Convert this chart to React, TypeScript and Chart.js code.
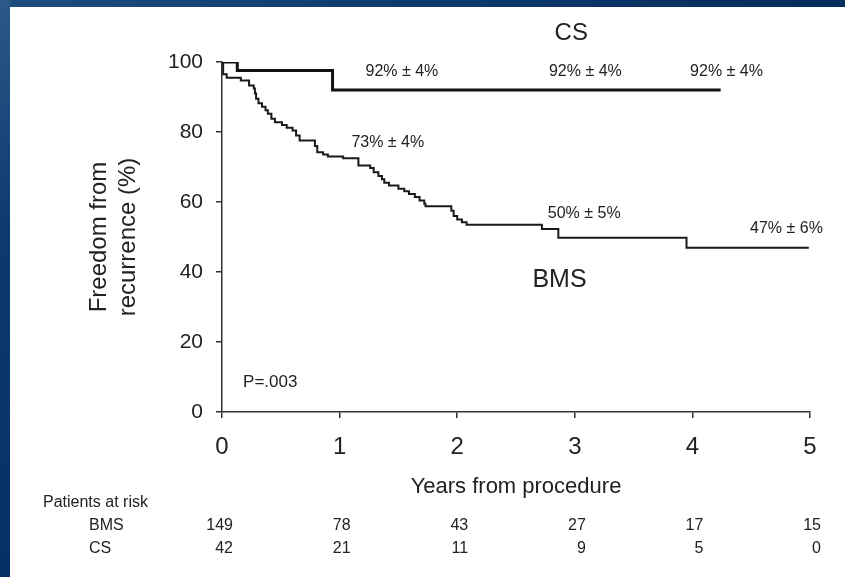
import React, { useEffect, useRef } from 'react';
import { Chart, registerables } from 'chart.js';

Chart.register(...registerables);

// ---- Data ----
const bmsTimes = [
  0, 0.01, 0.04, 0.16, 0.23, 0.27, 0.28, 0.29, 0.31, 0.34, 0.37, 0.39, 0.42, 0.45,
  0.51, 0.55, 0.6, 0.63, 0.66, 0.79, 0.81, 0.86, 0.9, 1.03, 1.16, 1.26, 1.29, 1.33,
  1.36, 1.38, 1.42, 1.5, 1.55, 1.59, 1.64, 1.68, 1.72, 1.73, 1.95, 1.97, 2.0, 2.04,
  2.08, 2.72, 2.86, 3.95, 4.99,
];
const bmsSurvival = [
  100, 96.5, 95.5, 94.7, 93.3, 92.4, 91, 89.5, 88.2, 87.2, 86.2, 85.2, 83.8, 82.8,
  82, 81.2, 80.4, 79, 77.6, 76, 74.2, 73.6, 73, 72.5, 70.4, 69.7, 68.5, 67.4,
  66.5, 65.5, 64.7, 63.8, 63.1, 62.3, 61.4, 60.4, 59.5, 58.8, 57.5, 56, 55, 54.2,
  53.5, 52.3, 49.8, 46.9, 46.9,
];
const csTimes = [0, 0.13, 0.94, 4.24];
const csSurvival = [100, 97.6, 92, 92];

const xTickValues = [0, 1, 2, 3, 4, 5];
const yTickValues = [0, 20, 40, 60, 80, 100];

const riskTimes = [0, 1, 2, 3, 4, 5];
const bmsAtRisk = [149, 78, 43, 27, 17, 15];
const csAtRisk = [42, 21, 11, 9, 5, 0];

const yTitleLines = ['Freedom from', 'recurrence (%)'];
const xTitle = 'Years from procedure';
const riskTitle = 'Patients at risk';
const riskRowLabels = ['BMS', 'CS'];

// annotation labels (text + anchor in data units)
const annotationTexts = ['CS', '92% ± 4%', '92% ± 4%', '92% ± 4%', '73% ± 4%', '50% ± 5%', '47% ± 6%', 'BMS', 'P=.003'];
const annotationT = [2.97, 1.53, 3.09, 4.29, 1.41, 3.08, 4.8, 2.87, 0.41];
const annotationV = [108.1, 97.3, 97.3, 97.3, 76.9, 56.6, 52.3, 37.6, 8.4];

// ---- Styles ----
const FONT = '"Liberation Sans", Arial, Helvetica, sans-serif';
const INK = '#222222';
const annotationSizes = [24, 16, 16, 16, 16, 16, 16, 25, 17];

const backgroundPlugin = {
  id: 'slideBackground',
  beforeDraw(chart: any) {
    const { ctx, width, height } = chart;
    ctx.save();
    ctx.fillStyle = '#ffffff';
    ctx.fillRect(0, 0, width, height);
    const gTop = ctx.createLinearGradient(0, 0, width, 0);
    gTop.addColorStop(0, '#1e4d80');
    gTop.addColorStop(0.5, '#0d3a6c');
    gTop.addColorStop(1, '#062d5c');
    ctx.fillStyle = gTop;
    ctx.fillRect(0, 0, width, 7);
    const gLeft = ctx.createLinearGradient(0, 0, 0, height);
    gLeft.addColorStop(0, '#2a5888');
    gLeft.addColorStop(0.4, '#0c3a6e');
    gLeft.addColorStop(1, '#063064');
    ctx.fillStyle = gLeft;
    ctx.fillRect(0, 0, 10, height);
    ctx.restore();
  },
};

const textPlugin = {
  id: 'kmText',
  afterDraw(chart: any) {
    const { ctx } = chart;
    const xs = chart.scales.x;
    const ys = chart.scales.y;
    ctx.save();
    ctx.fillStyle = INK;
    ctx.textBaseline = 'middle';
    ctx.textAlign = 'center';
    annotationTexts.forEach((txt, i) => {
      ctx.font = `${annotationSizes[i]}px ${FONT}`;
      ctx.fillText(txt, xs.getPixelForValue(annotationT[i]), ys.getPixelForValue(annotationV[i]));
    });

    // Patients at risk table
    ctx.font = `16px ${FONT}`;
    ctx.textAlign = 'left';
    ctx.fillText(riskTitle, 43, 503);
    const rowY = [526, 549];
    ctx.fillText(riskRowLabels[0], 89, rowY[0]);
    ctx.fillText(riskRowLabels[1], 89, rowY[1]);
    ctx.textAlign = 'right';
    riskTimes.forEach((t, i) => {
      const px = xs.getPixelForValue(t) + 11;
      ctx.fillText(String(bmsAtRisk[i]), px, rowY[0]);
      ctx.fillText(String(csAtRisk[i]), px, rowY[1]);
    });
    ctx.restore();
  },
};

export default function App() {
  const ref = useRef<HTMLCanvasElement | null>(null);

  useEffect(() => {
    if (!ref.current) return;
    Chart.defaults.font.family = FONT;
    const bmsData = bmsTimes.map((t, i) => ({ x: t, y: bmsSurvival[i] }));
    const csData = csTimes.map((t, i) => ({ x: t, y: csSurvival[i] }));

    const chart = new Chart(ref.current, {
      type: 'line',
      data: {
        datasets: [
          {
            label: 'CS',
            data: csData,
            stepped: 'before',
            borderColor: '#111111',
            borderWidth: 3,
            pointRadius: 0,
            fill: false,
          },
          {
            label: 'BMS',
            data: bmsData,
            stepped: 'before',
            borderColor: '#1a1a1a',
            borderWidth: 2,
            pointRadius: 0,
            fill: false,
          },
        ],
      },
      options: {
        animation: false,
        responsive: false,
        devicePixelRatio: 1,
        layout: { padding: { top: 62, right: 35, bottom: 0, left: 0 } },
        plugins: {
          legend: { display: false },
          tooltip: { enabled: false },
        },
        scales: {
          x: {
            type: 'linear',
            min: 0,
            max: 5,
            afterBuildTicks: (scale: any) => {
              scale.ticks = xTickValues.map((v) => ({ value: v }));
            },
            afterFit: (scale: any) => {
              scale.height = 165;
            },
            ticks: {
              color: INK,
              font: { size: 24 },
              padding: 15,
              maxRotation: 0,
              autoSkip: false,
            },
            grid: {
              display: true,
              drawOnChartArea: false,
              drawTicks: true,
              tickLength: 6,
              color: '#333333',
              lineWidth: 1.5,
            },
            border: { display: true, color: '#333333', width: 1.5 },
            title: {
              display: true,
              text: xTitle,
              color: INK,
              font: { size: 22, lineHeight: 1.2 },
              padding: { top: 0, bottom: 77 },
            },
          },
          y: {
            type: 'linear',
            min: 0,
            max: 100,
            afterBuildTicks: (scale: any) => {
              scale.ticks = yTickValues.map((v) => ({ value: v }));
            },
            afterFit: (scale: any) => {
              scale.width = 222;
            },
            ticks: {
              color: INK,
              font: { size: 21 },
              padding: 13,
            },
            grid: {
              display: true,
              drawOnChartArea: false,
              drawTicks: true,
              tickLength: 6,
              color: '#333333',
              lineWidth: 1.5,
            },
            border: { display: true, color: '#333333', width: 1.5 },
            title: {
              display: true,
              text: yTitleLines,
              color: INK,
              font: { size: 24, lineHeight: 1.2 },
              padding: { top: 85, bottom: 0 },
            },
          },
        },
      },
      plugins: [backgroundPlugin, textPlugin],
    } as any);

    return () => chart.destroy();
  }, []);

  return (
    <div style={{ position: 'fixed', left: 0, top: 0, width: 845, height: 577, background: '#ffffff' }}>
      <canvas ref={ref} width={845} height={577} style={{ display: 'block', width: 845, height: 577 }} />
    </div>
  );
}
